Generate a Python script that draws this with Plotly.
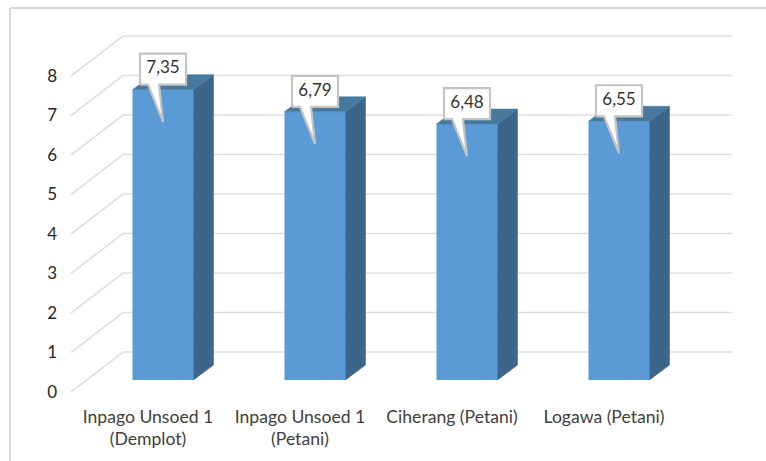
import plotly.graph_objects as go

categories = ["Inpago Unsoed 1<br>(Demplot)", "Inpago Unsoed 1<br>(Petani)", "Ciherang (Petani)", "Logawa (Petani)"]
values = [7.35, 6.79, 6.48, 6.55]
value_labels = ["7,35", "6,79", "6,48", "6,55"]
y_ticks = [0, 1, 2, 3, 4, 5, 6, 7, 8]

W, H = 766, 461
PX_X = 152.0      # pixels per category
PX_Y = 39.5       # pixels per value unit
X0 = 163.0        # pixel of first bar centre
Y_FRONT0 = 392.0  # pixel of value 0 on the axis front plane
Y_BAR0 = 380.0    # pixel of value 0 on the bar front plane

def dx(p): return p / PX_X
def dy(p): return p / PX_Y

FONT = "Lato"
BAR_W = 61 / PX_X
DEPTH_X, DEPTH_Y = dx(20), dy(15)
ix = list(range(len(categories)))

fig = go.Figure()

# Walls: each gridline runs from the front plane back, then across the back wall
gx0, gx1, gx2 = dx(71 - X0), dx(123 - X0), dx(732 - X0)
rise = dy(40)
for v in y_ticks:
    fig.add_trace(go.Scatter(x=[gx0, gx1, gx2], y=[v, v + rise, v + rise], mode="lines",
                             line=dict(color="#dfdfdf", width=1.6), xaxis="x", yaxis="y",
                             hoverinfo="skip", showlegend=False))

# Front faces
fig.add_trace(go.Bar(x=ix, y=values, width=BAR_W, marker=dict(color="#5b9bd5", line=dict(width=0)),
                     xaxis="x", yaxis="y2", showlegend=False, hoverinfo="skip"))

for i, v in zip(ix, values):
    l, r = i - BAR_W / 2, i + BAR_W / 2
    # Side face
    fig.add_trace(go.Scatter(x=[r, r + DEPTH_X, r + DEPTH_X, r, r],
                             y=[0, DEPTH_Y, v + DEPTH_Y, v, 0],
                             mode="lines", fill="toself", fillcolor="#3b6689",
                             line=dict(width=0.5, color="#3b6689"), xaxis="x", yaxis="y2",
                             hoverinfo="skip", showlegend=False))
    # Top face
    fig.add_trace(go.Scatter(x=[l, l + DEPTH_X, r + DEPTH_X, r, l],
                             y=[v, v + DEPTH_Y, v + DEPTH_Y, v, v],
                             mode="lines", fill="toself", fillcolor="#47799f",
                             line=dict(width=0.5, color="#47799f"), xaxis="x", yaxis="y2",
                             hoverinfo="skip", showlegend=False))

# Callouts
for i, v, t in zip(ix, values, value_labels):
    bl, br = i + dx(-23), i + dx(23)
    bb, bt = v + dy(5), v + dy(36)
    fig.add_trace(go.Scatter(
        x=[bl, i + dx(-15), i, i + dx(-4), br, br, bl, bl],
        y=[bb, bb, v - dy(32), bb, bb, bt, bt, bb],
        mode="lines", fill="toself", fillcolor="#ffffff",
        line=dict(color="#c4c4c4", width=2.2), xaxis="x", yaxis="y2",
        hoverinfo="skip", showlegend=False))
    fig.add_trace(go.Scatter(x=[i], y=[v + dy(20.5)], mode="text", text=[t],
                             textposition="middle center",
                             textfont=dict(family=FONT, size=17, color="#333333"),
                             xaxis="x", yaxis="y2", hoverinfo="skip", showlegend=False))

# Frame
fig.add_shape(type="line", xref="paper", yref="paper", x0=10 / W, x1=10 / W, y0=0, y1=1 - 8 / H,
              line=dict(color="#d9d9d9", width=2))
fig.add_shape(type="line", xref="paper", yref="paper", x0=10 / W, x1=1, y0=1 - 8 / H, y1=1 - 8 / H,
              line=dict(color="#d9d9d9", width=2))

fig.update_layout(
    width=W, height=H, margin=dict(l=0, r=0, t=0, b=0),
    paper_bgcolor="#ffffff", plot_bgcolor="#ffffff", showlegend=False, barmode="overlay",
    xaxis=dict(domain=[0, 1], range=[dx(-X0), dx(W - X0)], anchor="free", position=1 - 404 / H,
               tickmode="array", tickvals=[i - dx(15) for i in ix], ticktext=categories,
               tickangle=0, ticklen=0, showline=False, showgrid=False, zeroline=False,
               tickfont=dict(family=FONT, size=17.6, color="#404040")),
    yaxis=dict(domain=[0, 1], range=[dy(Y_FRONT0 - H), dy(Y_FRONT0)], anchor="free", position=57 / W,
               tickmode="array", tickvals=y_ticks, ticktext=[str(v) for v in y_ticks],
               ticklen=0, showline=False, showgrid=False, zeroline=False,
               tickfont=dict(family=FONT, size=17, color="#262626")),
    yaxis2=dict(domain=[0, 1], range=[dy(Y_BAR0 - H), dy(Y_BAR0)], overlaying="y", anchor="x",
                visible=False),
)

fig.write_html("out.html", config={"displayModeBar": False},
               post_script="document.body.style.margin='0';document.body.style.overflow='hidden';")
